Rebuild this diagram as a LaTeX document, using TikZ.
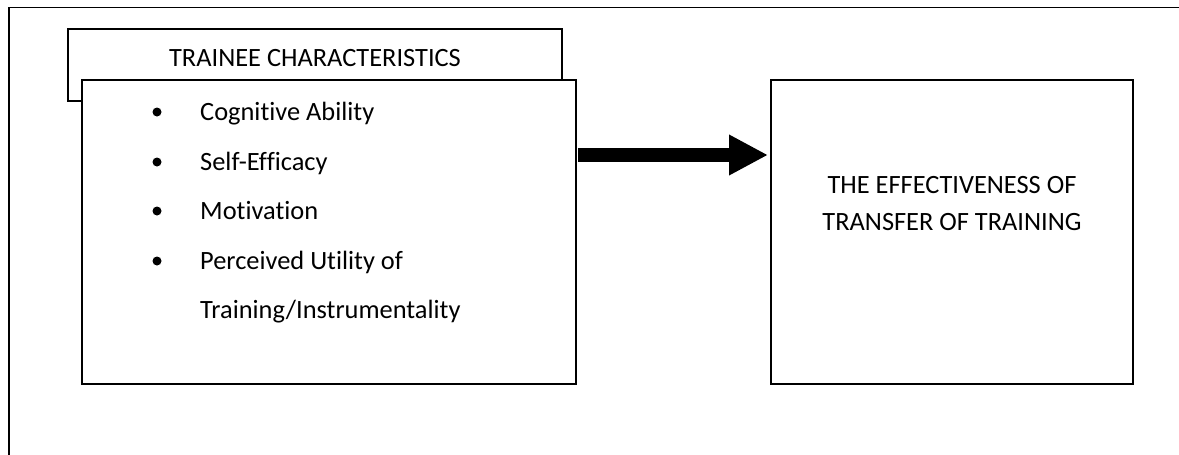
\documentclass[tikz,border=0pt]{standalone}
\usepackage{fontspec}
\setmainfont{Carlito}[Ligatures={NoCommon}]
\usetikzlibrary{arrows.meta}
\tikzset{
  box/.style={draw=black, line width=1.6pt, fill=white, rectangle, inner sep=0pt, outer sep=0pt},
  txt/.style={anchor=base, inner sep=0pt, font=\fontsize{26.4}{30}\selectfont},
  ltxt/.style={anchor=base west, inner sep=0pt, font=\fontsize{26.4}{30}\selectfont},
  dot/.style={circle, fill=black, inner sep=0pt, minimum size=9pt},
  bigarrow/.style={line width=14pt, -{Triangle[length=39pt,width=38pt]}},
  frameline/.style={draw=black, line width=1.5pt}
}
\begin{document}
\begin{tikzpicture}[x=1pt,y=1pt]
\useasboundingbox (0,0) rectangle (1179,-455);
% outer frame (top and left only)
\coordinate (fb) at (9,-455);
\coordinate (ft) at (9,-7.5);
\coordinate (fr) at (1179,-7.5);
\draw[frameline] (fb) -- (ft) -- (fr);
% header box (behind)
\node[box, minimum width=494pt, minimum height=72pt] (hdr) at (315,-65) {};
\node[txt] (hdrtext) at (315,-66.5) {TRAINEE CHARACTERISTICS};
% main box
\node[box, minimum width=494pt, minimum height=304pt] (main) at (329,-232) {};
\node[dot] (b1) at (157,-112) {};
\node[dot] (b2) at (157,-162) {};
\node[dot] (b3) at (157,-211) {};
\node[dot] (b4) at (157,-261) {};
\node[ltxt] (t1) at (200,-120) {Cognitive Ability};
\node[ltxt] (t2) at (200,-170) {Self-Efficacy};
\node[ltxt] (t3) at (200,-219) {Motivation};
\node[ltxt] (t4) at (200,-269) {Perceived Utility of};
\node[ltxt] (t5) at (200,-318) {Training/Instrumentality};
% result box
\node[box, minimum width=362pt, minimum height=304pt] (res) at (952,-232) {};
\node[txt] (r1) at (952,-193.5) {THE EFFECTIVENESS OF};
\node[txt] (r2) at (952,-230.5) {TRANSFER OF TRAINING};
% arrow
\draw[bigarrow] ([xshift=2pt,yshift=-75pt]main.north east) -- ([xshift=-3pt,yshift=-75pt]res.north west);
\end{tikzpicture}
\end{document}
